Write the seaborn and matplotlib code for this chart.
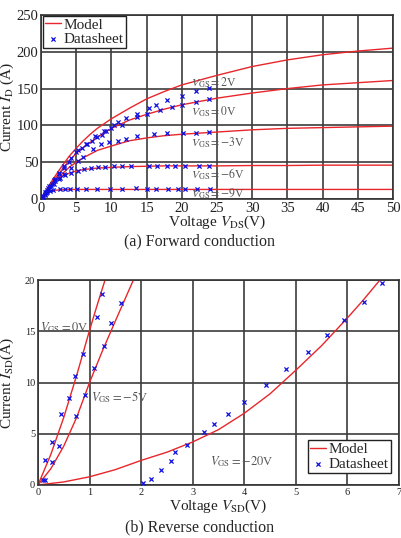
import numpy as np
import pandas as pd
import matplotlib
matplotlib.use('Agg')
import matplotlib.pyplot as plt
import seaborn as sns

# ---------- Forward conduction (top) ----------
fwd_v = [0, 0.5, 1, 1.5, 2, 3, 4, 5, 6, 7, 8, 10, 12.5, 15, 17.5, 20, 25, 30, 35, 40, 45, 50]
fwd_model = {
    '2':  [0, 8, 16, 24, 31, 45, 58, 69, 79, 88, 96, 109, 123, 136, 146, 155, 168, 180, 189, 196, 201, 205],
    '0':  [0, 8, 15, 22, 28, 40, 52, 62, 70, 77, 84, 96, 107, 115, 122, 128, 137, 144, 150, 155, 158, 161],
    '-3': [0, 7, 13, 19, 24, 34, 43, 50, 56, 61, 66, 72, 79, 83, 86, 88, 91, 94, 96, 97, 98, 99],
    '-6': [0, 7, 14, 20, 25, 31, 35, 38, 40, 41, 42, 43, 44, 44.5, 45, 45, 45, 45.5, 45.5, 46, 46, 46],
    '-9': [0, 5, 9, 11, 12, 12.5, 13, 13, 13, 13, 13, 13, 13, 13, 13, 13, 13, 13, 13, 13, 13, 13],
}

fwd_ds_v = {
    '2':  [0.3, 0.7, 1.2, 1.8, 2.5, 3.3, 4.3, 5.3, 6.4, 7.6, 8.9, 10.3, 11.0, 12.1, 13.6, 15.3, 16.4, 17.9, 20.0, 22.0, 23.8],
    '0':  [0.3, 0.6, 1.0, 1.5, 2.0, 2.6, 3.3, 4.0, 5.0, 5.8, 6.6, 7.2, 8.0, 8.6, 9.3, 10.0, 11.5, 13.6, 15.0, 16.9, 18.6, 20.0, 22.0, 23.8],
    '-3': [0.3, 0.7, 1.2, 1.8, 2.5, 3.3, 4.2, 5.3, 6.0, 7.4, 8.5, 9.7, 11.0, 12.1, 13.6, 16.1, 17.9, 20.1, 22.0, 23.8],
    '-6': [0.2, 0.5, 0.9, 1.4, 2.0, 2.7, 3.4, 4.3, 5.3, 6.1, 7.1, 8.1, 9.1, 10.3, 11.5, 12.8, 15.3, 16.5, 17.9, 19.0, 20.4, 22.5, 23.9],
    '-9': [0.2, 0.5, 0.9, 1.3, 1.75, 2.7, 3.4, 4.1, 5.1, 6.4, 7.9, 9.8, 11.5, 13.5, 15.0, 16.3, 18.1, 19.5, 20.4, 22.1, 24.0],
}
fwd_ds_i = {
    '2':  [4, 10, 18, 26, 35, 45, 56, 66, 75, 85, 93, 101, 104, 110, 116, 123, 128, 134, 140, 147, 151],
    '0':  [4, 9, 15, 21, 27, 34, 42, 50, 64, 69, 75, 79, 84, 87, 92, 96, 101, 111, 116, 121, 125, 128, 132, 136],
    '-3': [3, 8, 14, 20, 27, 34, 42, 51, 57, 68, 75, 77, 79, 81, 85, 88, 89, 89, 90, 91],
    '-6': [3, 7, 12, 18, 24, 29, 33, 35, 38.5, 41, 42, 43, 44, 45, 44.5, 45, 45, 45, 45, 45, 45, 44.5, 45],
    '-9': [3, 6, 9, 11, 12, 14, 14, 14, 14, 14, 14, 14, 14, 15, 14, 14, 14, 14, 14, 14, 14],
}
fwd_labels = {'2': 158, '0': 118, '-3': 77, '-6': 34, '-9': 7}

# ---------- Reverse conduction (bottom) ----------
rev_model_v = {
    '0':   [0, 0.25, 0.5, 0.75, 1.0, 1.15, 1.3],
    '-5':  [0, 0.25, 0.5, 0.75, 1.0, 1.25, 1.5, 1.85],
    '-20': [0, 0.5, 1, 1.5, 2, 2.5, 3, 3.5, 4, 4.5, 5, 5.5, 6, 6.3, 6.63],
}
rev_model_i = {
    '0':   [0, 3, 6.6, 10.7, 15.1, 17.6, 20],
    '-5':  [0, 1.6, 3.8, 6.6, 10, 13.1, 16, 20],
    '-20': [0, 0.3, 0.8, 1.5, 2.4, 3.2, 4.2, 5.4, 7.0, 8.9, 11.2, 13.6, 16.3, 18.0, 20],
}
rev_ds_v = {
    '0':   [0.09, 0.14, 0.28, 0.45, 0.60, 0.72, 0.88, 1.14, 1.25],
    '-5':  [0.13, 0.28, 0.41, 0.73, 0.91, 1.09, 1.28, 1.41, 1.60],
    '-20': [2.03, 2.20, 2.38, 2.57, 2.65, 2.88, 3.22, 3.41, 3.68, 4.00, 4.42, 4.80, 5.24, 5.60, 5.94, 6.33, 6.67],
}
rev_ds_i = {
    '0':   [0.5, 2.4, 4.2, 6.9, 8.5, 10.6, 12.8, 16.4, 18.6],
    '-5':  [0.5, 2.2, 3.8, 6.7, 8.8, 11.4, 13.6, 15.8, 17.8],
    '-20': [0.16, 0.6, 1.5, 2.35, 3.2, 3.9, 5.2, 6.0, 6.9, 8.1, 9.8, 11.35, 12.97, 14.6, 16.1, 17.9, 19.7],
}

sns.set_style('white')
plt.rcParams['font.family'] = ['Liberation Serif', 'DejaVu Serif']
plt.rcParams['mathtext.fontset'] = 'stix'

red = '#e8262b'
blue = '#1010e0'
grid_c = '#3c3c3c'

fig = plt.figure(figsize=(4.02, 5.38), dpi=100)
ax1 = fig.add_axes([41 / 402, 1 - 199 / 538, 352 / 402, 184 / 538])
ax2 = fig.add_axes([38 / 402, 1 - 485 / 538, 361 / 402, 205 / 538])


def style_axes(ax, fs):
    ax.grid(True, color=grid_c, linewidth=1.2)
    ax.set_axisbelow(True)
    for s in ax.spines.values():
        s.set_color('#333333')
        s.set_linewidth(1.2)
    ax.tick_params(direction='in', length=2, width=0.8, labelsize=fs, pad=2,
                   colors='#333333', labelcolor='#222222')


# top chart
for k, (name, vals) in enumerate(fwd_model.items()):
    sns.lineplot(x=fwd_v, y=vals, ax=ax1, color=red, linewidth=1.0,
                 sort=False, estimator=None, label='Model' if k == 0 else None)
for k, name in enumerate(fwd_ds_v):
    sns.scatterplot(x=fwd_ds_v[name], y=fwd_ds_i[name], ax=ax1, marker='x', color=blue,
                    s=9, linewidth=0.9, label='Datasheet' if k == 0 else None, zorder=3)
for name, yy in fwd_labels.items():
    ax1.text(21.3, yy, r'$V_{\rm GS}=%s$V' % name, fontsize=8.5,
             color='#555555', va='center', ha='left')

ax1.set_xlim(0, 50)
ax1.set_ylim(0, 250)
ax1.set_xticks(np.arange(0, 51, 5))
ax1.set_yticks(np.arange(0, 251, 50))
style_axes(ax1, 10.5)
ax1.set_xlabel(r'Voltage $V_{\rm DS}$(V)', fontsize=11, color='#222222')
ax1.set_ylabel(r'Current $I_{\rm D}$ (A)', fontsize=11, color='#222222')
ax1.xaxis.set_label_coords(0.5, -0.08)
ax1.yaxis.set_label_coords(-0.07, 0.5)
leg1 = ax1.legend(loc='upper left', bbox_to_anchor=(0.006, 0.997), borderaxespad=0,
                  fontsize=11, handlelength=1.0, handletextpad=0.2, borderpad=0.15,
                  labelspacing=0.05, fancybox=False, framealpha=1, edgecolor='#222222')
leg1.get_frame().set_linewidth(1.0)

# bottom chart
for k, name in enumerate(rev_model_v):
    sns.lineplot(x=rev_model_v[name], y=rev_model_i[name], ax=ax2, color=red, linewidth=1.0,
                 sort=False, estimator=None, label='Model' if k == 0 else None)
for k, name in enumerate(rev_ds_v):
    sns.scatterplot(x=rev_ds_v[name], y=rev_ds_i[name], ax=ax2, marker='x', color=blue,
                    s=9, linewidth=0.9, label='Datasheet' if k == 0 else None, zorder=3)
ax2.text(0.04, 15.4, r'$V_{\rm GS}=0$V', fontsize=9, color='#555555', va='center')
ax2.text(1.03, 8.6, r'$V_{\rm GS}=-5$V', fontsize=9, color='#555555', va='center')
ax2.text(3.34, 2.3, r'$V_{\rm GS}=-20$V', fontsize=9, color='#555555', va='center')

ax2.set_xlim(0, 7)
ax2.set_ylim(0, 20)
ax2.set_xticks(np.arange(0, 8, 1))
ax2.set_yticks(np.arange(0, 21, 5))
style_axes(ax2, 7.5)
ax2.set_xlabel(r'Voltage $V_{\rm SD}$(V)', fontsize=11, color='#222222')
ax2.set_ylabel(r'Current $I_{\rm SD}$(A)', fontsize=11, color='#222222')
ax2.xaxis.set_label_coords(0.5, -0.06)
ax2.yaxis.set_label_coords(-0.06, 0.5)
leg2 = ax2.legend(loc='lower right', bbox_to_anchor=(0.978, 0.059), borderaxespad=0,
                  fontsize=11, handlelength=1.0, handletextpad=0.2, borderpad=0.15,
                  labelspacing=0.05, fancybox=False, framealpha=1, edgecolor='#222222')
leg2.get_frame().set_linewidth(1.0)

fig.text(0.4975, 1 - 241 / 538, '(a) Forward conduction', ha='center', va='center', fontsize=11.5)
fig.text(0.4975, 1 - 527 / 538, '(b) Reverse conduction', ha='center', va='center', fontsize=11.5)

fig.savefig('out.png', dpi=100)
